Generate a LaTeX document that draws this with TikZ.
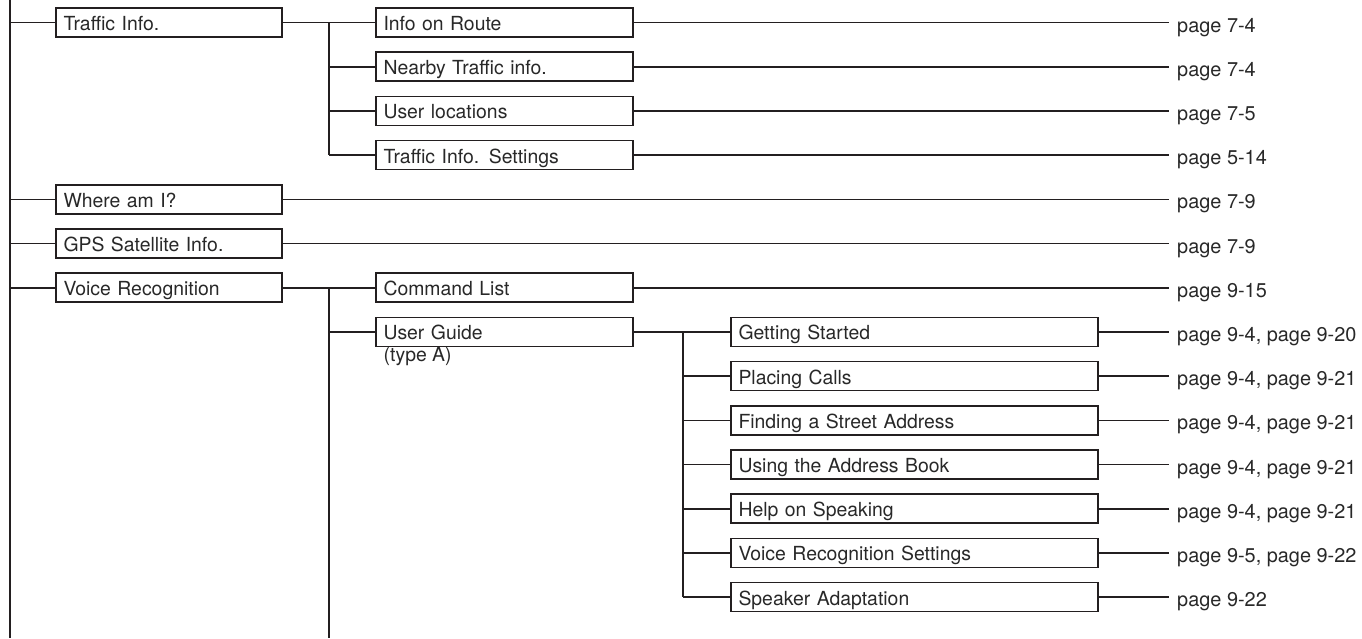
\documentclass[tikz,border=0pt]{standalone}
\usepackage{fontspec}
\setmainfont{TeX Gyre Heros}
\definecolor{linec}{RGB}{35,31,32}
\definecolor{textc}{RGB}{40,40,40}
\tikzset{
  conn/.style={draw=linec, line width=1.6pt},
  box/.style={draw=linec, line width=1.6pt, outer sep=0pt, inner ysep=0pt, inner xsep=7.5pt,
    minimum height=29pt, text height=17pt, text depth=1pt, anchor=west, align=left, text=textc,
    font=\fontsize{19.4}{22}\selectfont},
  lvA/.style={box, text width=211pt},
  lvB/.style={box, text width=242pt},
  lvC/.style={box, text width=352pt},
  pagelab/.style={anchor=base west, inner sep=0pt, text=textc, font=\fontsize{19.9}{22}\selectfont},
  note/.style={anchor=base west, inner sep=0pt, text=textc, font=\fontsize{19.4}{22}\selectfont},
}
\begin{document}
\begin{tikzpicture}[x=1pt,y=-1pt]
\useasboundingbox (0,0) rectangle (1362,638);
% trunk
\coordinate (trunktop) at (10,0);
\coordinate (trunkbot) at (10,638);
\coordinate (brA) at (329,22.5);
\coordinate (brBbot) at (329,638);
\coordinate (brC) at (683,331.9);
% level 1
\node[lvA] (traffic) at (56,22.5) {Traffic Info.};
\node[lvA] (where) at (56,199.3) {Where am I?};
\node[lvA] (gps) at (56,243.5) {GPS Satellite Info.};
\node[lvA] (voice) at (56,287.7) {Voice Recognition};
% level 2
\node[lvB] (route) at (376,22.5) {Info on Route};
\node[lvB] (nearby) at (376,66.7) {Nearby Traffic info.};
\node[lvB] (userloc) at (376,110.9) {User locations};
\node[lvB] (tset) at (376,155.1) {Traffic Info. Settings};
\node[lvB] (cmd) at (376,287.7) {Command List};
\node[lvB] (guide) at (376,331.9) {User Guide};
\node[note] (typea) at ([xshift=7.5pt,yshift=-15.5pt]guide.south west) {(type A)};
% level 3
\node[lvC] (start) at (731,331.9) {Getting Started};
\node[lvC] (calls) at (731,376.1) {Placing Calls};
\node[lvC] (street) at (731,420.3) {Finding a Street Address};
\node[lvC] (abook) at (731,464.5) {Using the Address Book};
\node[lvC] (help) at (731,508.7) {Help on Speaking};
\node[lvC] (vrset) at (731,552.9) {Voice Recognition Settings};
\node[lvC] (adapt) at (731,597.1) {Speaker Adaptation};
% page ends and labels
\foreach \n/\y/\t in {route/22.5/{page 7-4}, nearby/66.7/{page 7-4}, userloc/110.9/{page 7-5},
  tset/155.1/{page 5-14}, where/199.3/{page 7-9}, gps/243.5/{page 7-9}, cmd/287.7/{page 9-15},
  start/331.9/{page 9-4, page 9-20}, calls/376.1/{page 9-4, page 9-21}, street/420.3/{page 9-4, page 9-21},
  abook/464.5/{page 9-4, page 9-21}, help/508.7/{page 9-4, page 9-21}, vrset/552.9/{page 9-5, page 9-22},
  adapt/597.1/{page 9-22}}{
  \coordinate (end-\n) at (1169,\y);
  \node[pagelab] (lab-\n) at (1177,\y+9.5) {\t};
  \draw[conn] (\n.east) -- (end-\n);
}
% trunk and branches
\draw[conn] (trunktop) -- (trunkbot);
\foreach \n in {traffic,where,gps,voice}{
  \draw[conn] (trunktop |- \n.west) -- (\n.west);
}
\draw[conn] (traffic.east) -- (route.west);
\draw[conn] (brA |- route.west) -- (brA |- tset.west);
\foreach \n in {nearby,userloc,tset}{
  \draw[conn] (brA |- \n.west) -- (\n.west);
}
\draw[conn] (voice.east) -- (cmd.west);
\draw[conn] (brBbot |- cmd.west) -- (brBbot);
\draw[conn] (brBbot |- guide.west) -- (guide.west);
\draw[conn] (guide.east) -- (start.west);
\draw[conn] (brC |- start.west) -- (brC |- adapt.west);
\foreach \n in {calls,street,abook,help,vrset,adapt}{
  \draw[conn] (brC |- \n.west) -- (\n.west);
}
\end{tikzpicture}
\end{document}
